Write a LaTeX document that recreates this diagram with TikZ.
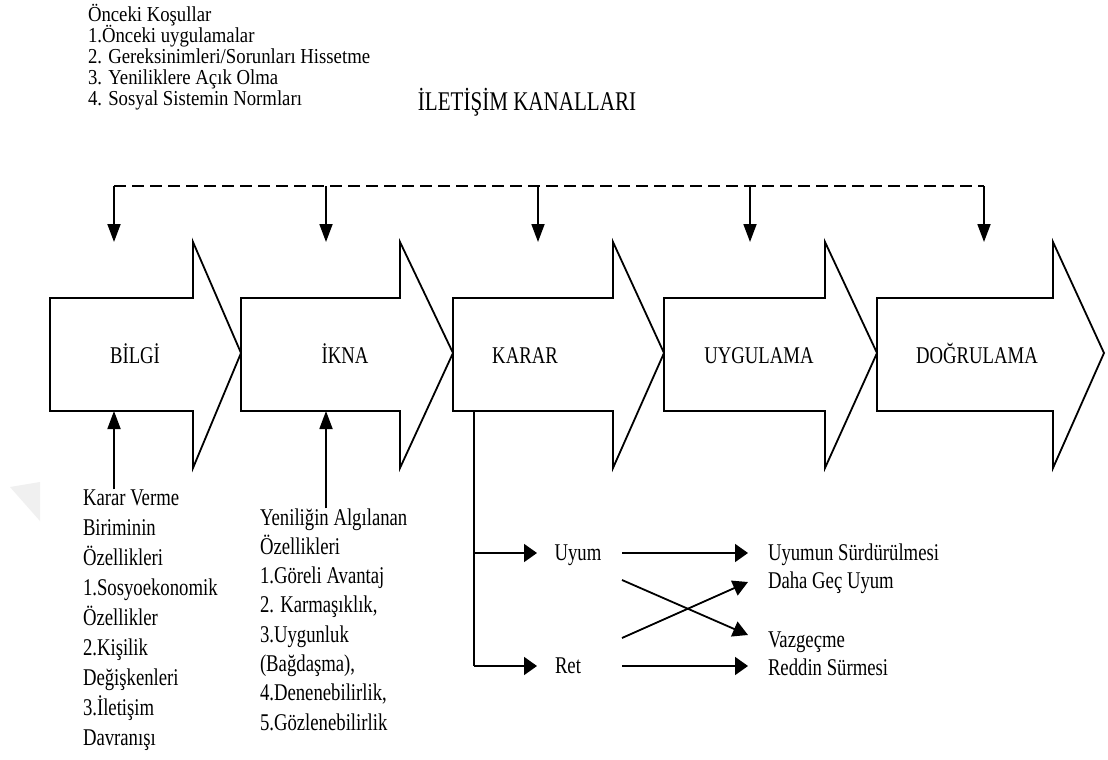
\documentclass[tikz,border=0pt]{standalone}
\usepackage{fontspec}
\setmainfont{Liberation Serif}[FakeStretch=0.78]
\newfontfamily\topfont{Liberation Serif}[FakeStretch=0.88]
\usetikzlibrary{arrows.meta}
\newcommand{\txtstack}[2]{\vtop{\baselineskip=#1\lineskiplimit=-100pt\lineskip=0pt\relax #2}}
\newcommand{\stagearrow}[3]{\draw[stage] (#1,298) -- (#2,298) -- (#2,242) -- (#3,353) -- (#2,468) -- (#2,411) -- (#1,411) -- cycle;}
\begin{document}
\begin{tikzpicture}[x=1pt,y=-1pt,
  every node/.style={inner sep=0pt, outer sep=0pt},
  stage/.style={draw=black, line width=1.8pt, fill=white, line join=miter},
  vlink/.style={line width=1.8pt, -{Triangle[length=18pt,width=13pt]}},
  hlink/.style={line width=1.8pt, -{Triangle[length=13pt,width=18pt]}},
  dlink/.style={line width=1.8pt, -{Triangle[length=15pt,width=16pt]}},
  plain/.style={line width=1.8pt},
  channel/.style={line width=1.8pt, dash pattern=on 12pt off 6pt},
  lbl/.style={font=\fontsize{24}{28}\selectfont},
  toplbl/.style={font=\topfont\fontsize{21.3}{24}\selectfont},
  titlelbl/.style={font=\fontsize{27}{30}\selectfont}]
\useasboundingbox (0,0) rectangle (1108,760);
\fill[white] (0,0) rectangle (1108,760);
\fill[black!6] (10,487) -- (40,482) -- (40,521) -- cycle;

% top texts
\node[toplbl, anchor=base west] (prior) at (88,22) {\txtstack{20.9pt}{%
  \hbox{Önceki Koşullar}\hbox{1.Önceki uygulamalar}\hbox{2. Gereksinimleri/Sorunları Hissetme}%
  \hbox{3. Yeniliklere Açık Olma}\hbox{4. Sosyal Sistemin Normları}}};
\node[titlelbl, anchor=base] (kanal) at (527,110) {İLETİŞİM KANALLARI};

% stage arrows
\stagearrow{50}{193}{241}
\stagearrow{241}{400}{453}
\stagearrow{453}{613}{664}
\stagearrow{664}{825}{877}
\stagearrow{877}{1053}{1104}
\node[lbl, anchor=base] (bilgi) at (135,363) {BİLGİ};
\node[lbl, anchor=base] (ikna) at (345,363) {İKNA};
\node[lbl, anchor=base] (karar) at (525,363) {KARAR};
\node[lbl, anchor=base] (uygulama) at (759,363) {UYGULAMA};
\node[lbl, anchor=base] (dogrulama) at (977,363) {DOĞRULAMA};

% communication channels
\coordinate (c1) at (114,186);
\coordinate (c2) at (326,186);
\coordinate (c3) at (538,186);
\coordinate (c4) at (750,186);
\coordinate (c5) at (984,186);
\coordinate (t1) at (114,242);
\coordinate (t2) at (326,242);
\coordinate (t3) at (538,242);
\coordinate (t4) at (750,242);
\coordinate (t5) at (984,242);
\draw[channel] (c1) -- (c5);
\draw[vlink] (c1) -- (t1);
\draw[vlink] (c2) -- (t2);
\draw[vlink] (c3) -- (t3);
\draw[vlink] (c4) -- (t4);
\draw[vlink] (c5) -- (t5);

% bottom-left texts
\node[lbl, anchor=base west] (birim) at (83,505) {\txtstack{30pt}{%
  \hbox{Karar Verme}\hbox{Biriminin}\hbox{Özellikleri}\hbox{1.Sosyoekonomik}%
  \hbox{Özellikler}\hbox{2.Kişilik}\hbox{Değişkenleri}\hbox{3.İletişim}\hbox{Davranışı}}};
\node[lbl, anchor=base west] (yenilik) at (260,525) {\txtstack{29.3pt}{%
  \hbox{Yeniliğin Algılanan}\hbox{Özellikleri}\hbox{1.Göreli Avantaj}\hbox{2. Karmaşıklık,}%
  \hbox{3.Uygunluk}\hbox{(Bağdaşma),}\hbox{4.Denenebilirlik,}\hbox{5.Gözlenebilirlik}}};
\coordinate (b1) at (114,411);
\coordinate (b2) at (326,411);
\draw[vlink] (birim.north -| b1) -- (b1);
\draw[vlink] (yenilik.north -| b2) -- (b2);

% decision branches
\coordinate (k0) at (474,411);
\coordinate (ky) at (474,553);
\coordinate (kr) at (474,666);
\node[lbl, anchor=base] (uyum) at (578,560) {Uyum};
\node[lbl, anchor=base] (ret) at (568,673) {Ret};
\coordinate (uyin) at (537,553);
\coordinate (rein) at (537,666);
\draw[plain] (k0) -- (kr);
\draw[hlink] (ky) -- (uyin);
\draw[hlink] (kr) -- (rein);

\node[lbl, anchor=base west] (surd) at (768,560) {Uyumun Sürdürülmesi};
\node[lbl, anchor=base west] (gec) at (768,588) {Daha Geç Uyum};
\node[lbl, anchor=base west] (vaz) at (768,647) {Vazgeçme};
\node[lbl, anchor=base west] (redd) at (768,675) {Reddin Sürmesi};

\coordinate (uo1) at (622,553);
\coordinate (uo2) at (622,580);
\coordinate (ro1) at (622,638);
\coordinate (ro2) at (622,666);
\coordinate (surdin) at (748,553);
\coordinate (gecin) at (748,582);
\coordinate (vazin) at (748,635);
\coordinate (reddin) at (748,666);
\draw[hlink] (uo1) -- (surdin);
\draw[dlink] (uo2) -- (vazin);
\draw[dlink] (ro1) -- (gecin);
\draw[hlink] (ro2) -- (reddin);
\end{tikzpicture}
\end{document}
